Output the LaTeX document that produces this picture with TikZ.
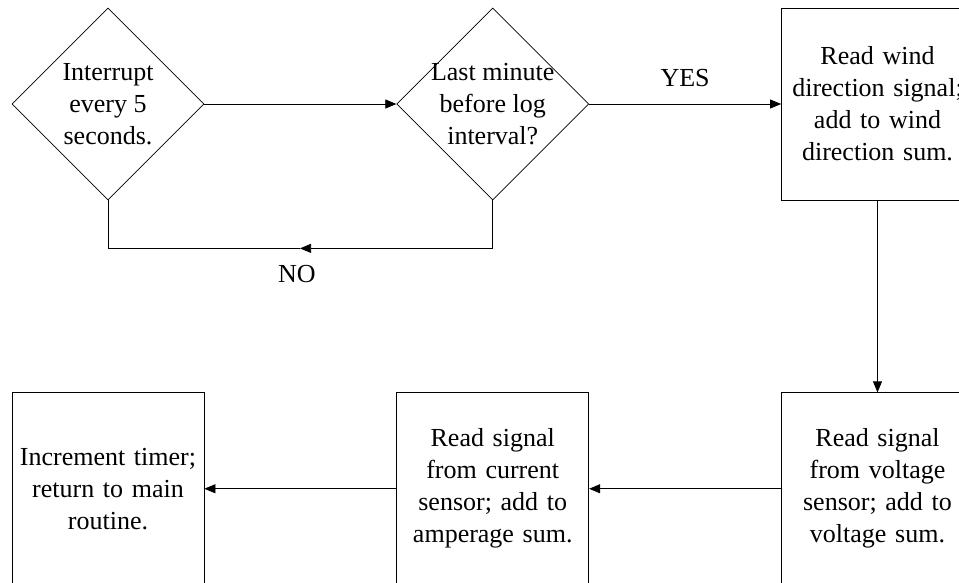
\documentclass[tikz,border=0pt]{standalone}
\usepackage{fontspec}
\setmainfont{Liberation Serif}
\usetikzlibrary{arrows.meta, positioning, shapes.geometric}

\begin{document}
\begin{tikzpicture}[node distance=192pt, x=1pt, y=1pt,
    every node/.style={font=\fontsize{26}{32}\selectfont},
    decision/.style={draw, diamond, minimum width=192pt, minimum height=192pt, inner sep=0pt, line width=0.75pt},
    decisiontext/.style={align=center, inner sep=0pt},
    process/.style={draw, rectangle, minimum width=192pt, minimum height=192pt, text width=186pt, align=center, inner sep=0pt, line width=0.75pt},
    flow/.style={-{Triangle[length=11pt, width=9pt]}, line width=0.75pt},
    tag/.style={inner sep=0pt}]
    \useasboundingbox (0,0) rectangle (959,-582);

    % Define decision nodes
    \node (interrupt) [decision, label={[decisiontext]center:Interrupt\\every 5\\seconds.}] at (108,-104) {};
    \node (lastmin) [decision, right=of interrupt, label={[decisiontext]center:Last minute\\before log\\interval?}] {};

    % Define process nodes
    \node (wind) [process, right=of lastmin] {Read wind\\direction signal;\\add to wind\\direction sum.};
    \node (volt) [process, below=of wind] {Read signal\\from voltage\\sensor; add to\\voltage sum.};
    \node (amp) [process, left=of volt] {Read signal\\from current\\sensor; add to\\amperage sum.};
    \node (timer) [process, left=of amp] {Increment timer;\\return to main\\routine.};

    % Draw flow arrows
    \draw[flow] (interrupt) -- (lastmin);
    \draw[flow] (lastmin) -- node[tag, midway, above=17pt] {YES} (wind);
    \draw[flow] (wind) -- (volt);
    \draw[flow] (volt) -- (amp);
    \draw[flow] (amp) -- (timer);

    % NO branch back to the interrupt
    \coordinate (nomid) at ([xshift=192pt, yshift=-48pt]interrupt.south);
    \draw[flow] (lastmin.south) |- (nomid);
    \draw[line width=0.75pt] (nomid) -| (interrupt.south);
    \node (nolabel) [tag, below=17pt of nomid, xshift=-3pt] {NO};
\end{tikzpicture}
\end{document}
